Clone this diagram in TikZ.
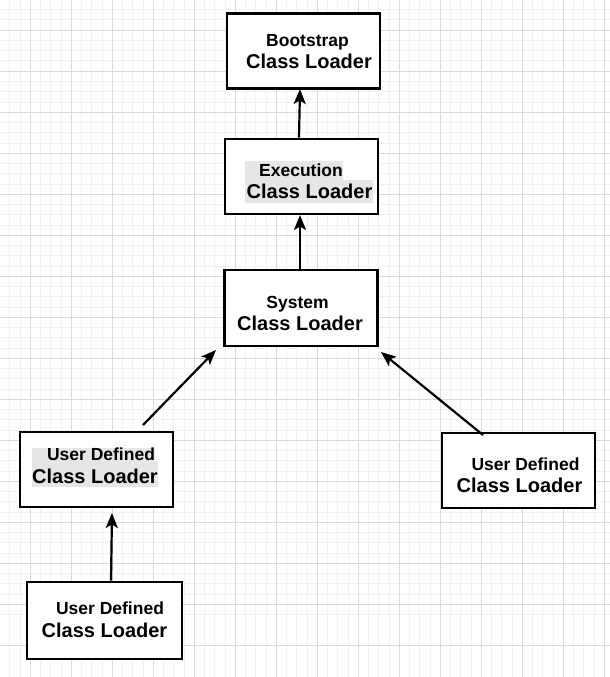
\documentclass[tikz,border=0pt]{standalone}
\usepackage{fontspec}
\setmainfont{Liberation Sans}
\usetikzlibrary{arrows.meta}
\definecolor{gridmajor}{HTML}{DADADA}
\definecolor{gridminor}{HTML}{F2F2F2}
\definecolor{hl}{HTML}{E6E6E6}
\tikzset{
  loaderbox/.style={draw=black, line width=2.6pt, fill=white, minimum width=153pt, minimum height=75pt, inner sep=0pt},
  small/.style={anchor=base, inner sep=0pt, font=\fontsize{17.5}{20}\selectfont\bfseries},
  large/.style={anchor=base, inner sep=0pt, font=\fontsize{20}{23}\selectfont\bfseries},
  link/.style={line width=2.2pt, -{Stealth[length=15pt,width=12pt,inset=3.5pt]}},
  hlbox/.style={fill=hl, draw=none}
}
\begin{document}
\begin{tikzpicture}[x=1pt,y=-1pt]
\useasboundingbox (0,0) rectangle (610,677);
\fill[white] (0,0) rectangle (610,677);
% grid
\foreach \i in {0,...,60} {
  \draw[gridminor, line width=0.5pt] ({-0.75+\i*10.25},0) -- ({-0.75+\i*10.25},677);
  \draw[gridminor, line width=0.5pt] (0,{-0.75+\i*10.25}) -- (610,{-0.75+\i*10.25});
}
\foreach \i in {0,...,15} {
  \draw[gridmajor, line width=0.8pt] ({30+\i*41},0) -- ({30+\i*41},677);
  \draw[gridmajor, line width=0.8pt] (0,{30+\i*41}) -- (610,{30+\i*41});
}
% boxes
\node[loaderbox] (boot) at (303.5,51) {};
\node[loaderbox] (exec) at (301.5,176.5) {};
\node[loaderbox, minimum height=76pt] (sys) at (301,308) {};
\node[loaderbox] (udl) at (96.5,469.5) {};
\node[loaderbox] (udr) at (518.5,470.5) {};
\node[loaderbox, minimum width=155pt, minimum height=77pt] (udb) at (104.5,620.5) {};
% highlights
\fill[hlbox] (245,161) rectangle (343,180);
\fill[hlbox] (245,180) rectangle (373,203);
\fill[hlbox] (32,448) rectangle (155,461);
\fill[hlbox] (32,461) rectangle (158,487);
% texts
\node[small] (bootA) at (307.5,47) {Bootstrap};
\node[large] (bootB) at (309,69) {Class Loader};
\node[small] (execA) at (301,176) {Execution};
\node[large] (execB) at (309.5,198) {Class Loader};
\node[small] (sysA) at (297.5,308) {System};
\node[large] (sysB) at (300,330) {Class Loader};
\node[small] (udlA) at (101,460) {User Defined};
\node[large] (udlB) at (95,483) {Class Loader};
\node[small] (udrA) at (525.5,470) {User Defined};
\node[large] (udrB) at (519.5,492) {Class Loader};
\node[small] (udbA) at (110,614) {User Defined};
\node[large] (udbB) at (104.5,637) {Class Loader};
% connector end points
\coordinate (t1) at (300,89);
\coordinate (t2) at (300,215);
\coordinate (t3) at (216,350);
\coordinate (s3) at (143,425);
\coordinate (t4) at (381,352);
\coordinate (s4) at (483,435);
\coordinate (t5) at (112,513);
\draw[link] (exec.north -| 299,0) -- (t1);
\draw[link] (sys.north -| 300,0) -- (t2);
\draw[link] (s3) -- (t3);
\draw[link] (s4) -- (t4);
\draw[link] (udb.north -| 111,0) -- (t5);
\end{tikzpicture}
\end{document}
